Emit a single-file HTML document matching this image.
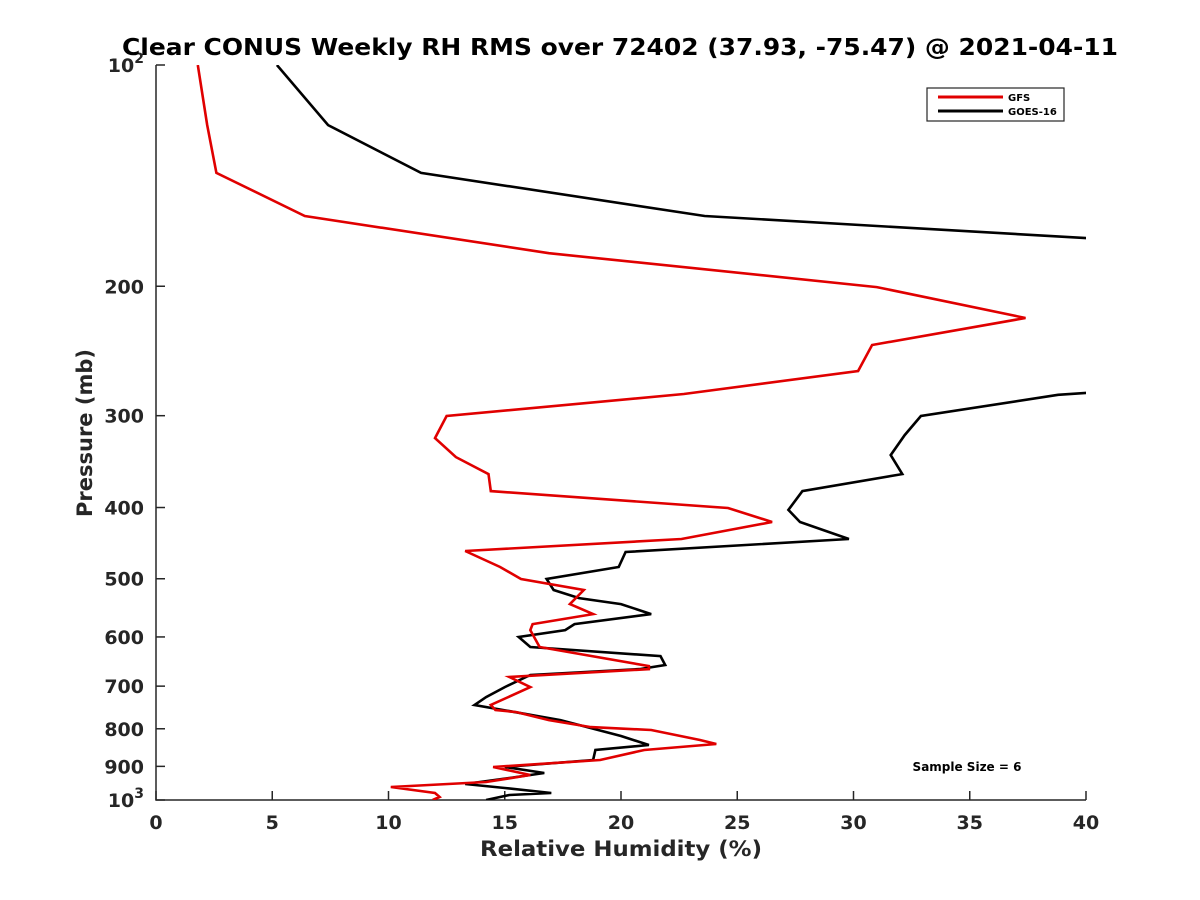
<!DOCTYPE html>
<html><head><meta charset="utf-8"><style>
body{margin:0;background:#fff;}
svg{display:block;font-family:"DejaVu Sans","Liberation Sans",sans-serif;}
</style></head><body>
<svg id="chart" width="1200" height="900">
<g id="axes"></g>
<g id="series"></g>
</svg>
<script>
const gfsRH=[1.8,2.2,2.6,6.4,16.9,31.0,37.4,30.8,30.2,22.7,12.5,12.0,12.9,14.3,14.4,24.6,26.5,22.6,13.3,14.8,15.7,18.4,17.8,18.8,16.2,16.1,16.5,21.2,21.2,15.2,16.1,14.4,14.6,15.5,16.9,18.7,21.3,23.4,24.1,21.0,19.1,14.5,16.1,14.2,10.1,12.0,12.2,11.9];
const gfsP=[100,120.7,140.2,160.5,180.3,200.5,220.9,240.4,260.8,280.3,300.3,321.8,341.6,360.2,379.9,400.6,418.6,441.5,458.4,481.9,500.4,518,541.3,558.5,576.3,587.3,619.3,657.3,663.5,680.3,702,742.6,754.4,759.2,778.5,795.7,803.2,828.7,839.1,855.1,882.3,901.9,924.7,945.2,960.1,978.3,990.6,1000];
const goesRH=[5.2,7.4,11.4,23.6,40,50,55,45,41,38.8,32.9,32.2,31.6,32.1,27.8,27.2,27.7,29.8,20.2,19.9,16.8,17.1,18.2,20.0,21.3,18.0,17.6,15.6,16.1,21.7,21.9,20.8,16.1,15.0,14.2,13.7,17.4,20.0,21.2,18.9,18.8,15.0,16.7,15.2,13.3,15.0,17.0,15.2,14.2];
const goesP=[100,120.7,140.2,160.5,172,190,240,272,278,281,300.3,318.8,339.4,360.2,379.9,403,418.6,441.5,459.8,481.9,500.4,518,531.2,541.3,558.5,576.3,587.3,600.2,619.3,637.1,655.1,663.5,675.9,702,724.4,742.6,778.5,818.4,841.8,855.1,882.3,901.9,919,933.3,951.2,963.2,978.3,984.5,1000];
const xTicks=[0,5,10,15,20,25,30,35,40];
const yTicks=[100,200,300,400,500,600,700,800,900,1000];
const yLabels=["10|2","200","300","400","500","600","700","800","900","10|3"];

const L=156,R=1086,T=65,B=800;
const xs=v=>L+(v/40)*(R-L);
const ys=p=>T+Math.log10(p/100)*(B-T);
const NS="http://www.w3.org/2000/svg";
function mk(tag,attrs,parent,text){const e=document.createElementNS(NS,tag);for(const k in attrs)e.setAttribute(k,attrs[k]);if(text!==undefined)e.textContent=text;parent.appendChild(e);return e;}
const ax=document.getElementById('axes'),se=document.getElementById('series'),svg=document.getElementById('chart');

const defs=mk('defs',{},svg);
const cp=mk('clipPath',{id:'clip'},defs);
mk('rect',{x:L,y:T,width:R-L,height:B-T},cp);

let t=mk('text',{x:620,y:55,'text-anchor':'middle','font-size':23.5,'font-weight':'bold',fill:'#000',textLength:996,lengthAdjust:'spacingAndGlyphs'},svg,'Clear CONUS Weekly RH RMS over 72402 (37.93, -75.47) @ 2021-04-11');



const axl=mk('path',{d:`M${L},${T}V${B}H${R}`,stroke:'#262626','stroke-width':1.5,fill:'none'},ax);



xTicks.forEach(v=>{
  const x=xs(v);
  const tk=mk('line',{x1:x,x2:x,y1:B,y2:B-9,stroke:'#262626','stroke-width':1.5},ax);
  
  
  const lb=mk('text',{x:x,y:B+29,'text-anchor':'middle','font-size':19,'font-weight':'bold',fill:'#262626'},ax,String(v));
  
  
});
yTicks.forEach((p,i)=>{
  const y=ys(p);
  const tk=mk('line',{x1:L,x2:L+9,y1:y,y2:y,stroke:'#262626','stroke-width':1.5},ax);
  
  
  const parts=yLabels[i].split('|');
  let lb;
  if(parts.length===2){
    lb=mk('text',{x:L-12,y:y+7,'text-anchor':'end','font-size':19,'font-weight':'bold',fill:'#262626'},ax);
    mk('tspan',{},lb,parts[0]);
    mk('tspan',{'font-size':14,dy:-9},lb,parts[1]);
  } else {
    lb=mk('text',{x:L-12,y:y+7,'text-anchor':'end','font-size':19,'font-weight':'bold',fill:'#262626'},ax,yLabels[i]);
  }
  
  
});
t=mk('text',{x:621,y:856,'text-anchor':'middle','font-size':21,'font-weight':'bold',fill:'#262626',textLength:282,lengthAdjust:'spacingAndGlyphs'},ax,'Relative Humidity (%)');


t=mk('text',{x:0,y:0,'text-anchor':'middle','font-size':21,'font-weight':'bold',fill:'#262626',transform:'translate(92,433) rotate(-90)'},ax,'Pressure (mb)');



function line(rh,p,color,name){
  const d=rh.map((v,i)=>(i?'L':'M')+xs(v).toFixed(1)+','+ys(p[i]).toFixed(1)).join('');
  const e=mk('path',{d:d,stroke:color,'stroke-width':2.6,fill:'none','clip-path':'url(#clip)','stroke-linejoin':'miter'},se);
  
  
}
line(goesRH,goesP,'#000','goes16-line');
line(gfsRH,gfsP,'#e00000','gfs-line');

const lg=mk('g',{},svg);


mk('rect',{x:927,y:88,width:137,height:33,fill:'#fff',stroke:'#262626','stroke-width':1.2},lg);
mk('line',{x1:938,x2:1003,y1:97,y2:97,stroke:'#e00000','stroke-width':3},lg);
mk('line',{x1:938,x2:1003,y1:111,y2:111,stroke:'#000','stroke-width':3},lg);
t=mk('text',{x:1008,y:101,'font-size':10,'font-weight':'bold',fill:'#000'},lg,'GFS');


t=mk('text',{x:1008,y:115,'font-size':10,'font-weight':'bold',fill:'#000'},lg,'GOES-16');



t=mk('text',{x:967,y:771,'text-anchor':'middle','font-size':12,'font-weight':'bold',fill:'#000'},svg,'Sample Size = 6');


</script>
</body></html>
